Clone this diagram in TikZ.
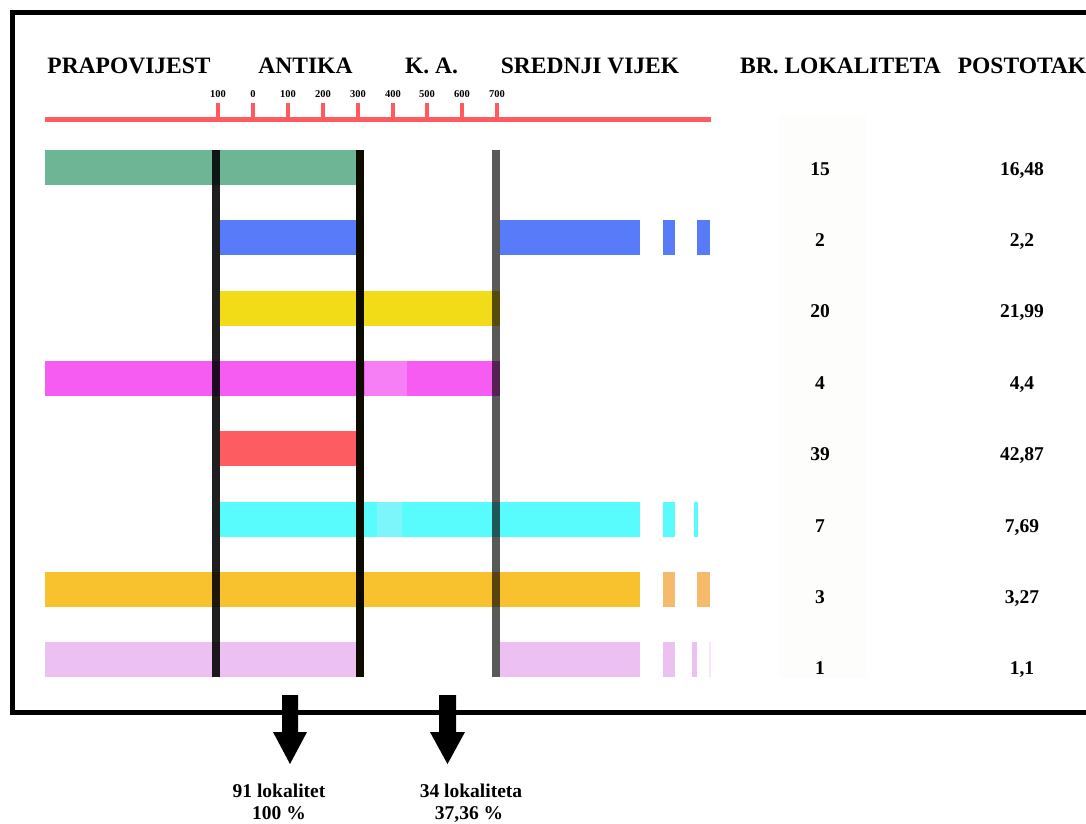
\documentclass[tikz,border=0pt]{standalone}
\usepackage{fontspec}
\setmainfont{Liberation Serif}
\definecolor{cgreen}{HTML}{6DB595}
\definecolor{cblue}{HTML}{587BFA}
\definecolor{cyellow}{HTML}{F2DC18}
\definecolor{cmagenta}{HTML}{F65CF2}
\definecolor{cmagental}{HTML}{F77FF6}
\definecolor{cred}{HTML}{FD5C60}
\definecolor{ccyan}{HTML}{58FCFD}
\definecolor{ccyanl}{HTML}{7DF6FB}
\definecolor{corange}{HTML}{F8C12E}
\definecolor{corangel}{HTML}{F5BB6A}
\definecolor{clilac}{HTML}{ECC0F0}
\definecolor{caxis}{HTML}{FF5A5F}
\definecolor{cfaint}{HTML}{FDFDFB}
\definecolor{cblackline}{HTML}{0D0A00}
\begin{document}
\begin{tikzpicture}[x=1pt,y=-1pt,
  hdr/.style={font=\fontsize{23.5}{24}\selectfont\bfseries, anchor=base, inner sep=0pt},
  num/.style={font=\fontsize{19.5}{20}\selectfont\bfseries, anchor=base, inner sep=0pt},
  ticklab/.style={font=\fontsize{10.5}{11}\selectfont\bfseries, anchor=base, inner sep=0pt},
  axisline/.style={draw=caxis, line width=5pt},
  tickline/.style={draw=caxis, line width=4pt},
  vline/.style={line width=8pt},
  arrowshape/.style={fill=black}]
\useasboundingbox (0,0) rectangle (1086,823);
\clip (0,0) rectangle (1086,823);
\fill[white] (0,0) rectangle (1086,823);
% frame
\draw[line width=5pt] (1100,12.5) -- (12.5,12.5) -- (12.5,712) -- (1100,712);
% faint column background
\fill[cfaint] (779,115) rectangle (867,678);
% headers
\node[hdr] (h1) at (129,73) {PRAPOVIJEST};
\node[hdr] (h2) at (305.5,73) {ANTIKA};
\node[hdr] (h3) at (431.5,73) {K. A.};
\node[hdr] (h4) at (590,73) {SREDNJI VIJEK};
\node[hdr] (h5) at (840.5,73) {BR. LOKALITETA};
\node[hdr] (h6) at (1022,73) {POSTOTAK};
% axis
\draw[axisline] (45,119) -- (711,119);
\foreach \x/\t [count=\i] in {218/100,253/0,288/100,323/200,358/300,393/400,427/500,462/600,497/700}{
  \draw[tickline] (\x,103) -- (\x,119);
  \node[ticklab] (t\i) at (\x,97) {\t};
}
% row 1
\fill[cgreen] (45,150) rectangle (357,185);
% row 2
\fill[cblue] (220,220) rectangle (357,255);
\fill[cblue] (500,220) rectangle (640,255);
\fill[cblue] (663,220) rectangle (675,255);
\fill[cblue] (697,220) rectangle (710,255);
% row 3
\fill[cyellow] (220,291) rectangle (500,326);
% row 4
\fill[cmagenta] (45,361) rectangle (500,396);
\fill[cmagental] (365,361) rectangle (407,396);
% row 5
\fill[cred] (220,431) rectangle (357,466);
% row 6
\fill[ccyan] (220,502) rectangle (640,537);
\fill[ccyanl] (377,502) rectangle (402,537);
\fill[ccyan] (663,502) rectangle (675,537);
\fill[ccyan] (694,502) rectangle (698,537);
% row 7
\fill[corange] (45,572) rectangle (640,607);
\fill[corangel] (663,572) rectangle (675,607);
\fill[corangel] (697,572) rectangle (710,607);
% row 8
\fill[clilac] (45,642) rectangle (357,677);
\fill[clilac] (500,642) rectangle (640,677);
\fill[clilac] (663,642) rectangle (675,677);
\fill[clilac] (692,642) rectangle (697,677);
\fill[clilac!40] (709,642) rectangle (711,677);
% vertical lines
\draw[vline, draw=black, draw opacity=0.88] (216,150) -- (216,677);
\draw[vline, draw=cblackline] (360,150) -- (360,677);
\draw[vline, draw=black, draw opacity=0.65] (496,150) -- (496,677);
% numbers
\foreach \n/\p [count=\i from 0] in {15/{16,48},2/{2,2},20/{21,99},4/{4,4},39/{42,87},7/{7,69},3/{3,27},1/{1,1}}{
  \node[num] (n\i) at (820,175+71.4*\i) {\n};
  \node[num] (p\i) at (1022,175+71.4*\i) {\p};
}
% arrows
\fill[arrowshape] (282,695) -- (298,695) -- (298,732) -- (307,732) -- (290,764) -- (273,732) -- (282,732) -- cycle;
\fill[arrowshape] (439,695) -- (456,695) -- (456,732) -- (465,732) -- (447.5,764) -- (430,732) -- (439,732) -- cycle;
\node[num] (l1) at (279,797) {91 lokalitet};
\node[num] (l2) at (279,819) {100 \%};
\node[num] (l3) at (471,797) {34 lokaliteta};
\node[num] (l4) at (469,819) {37,36 \%};
\end{tikzpicture}
\end{document}
